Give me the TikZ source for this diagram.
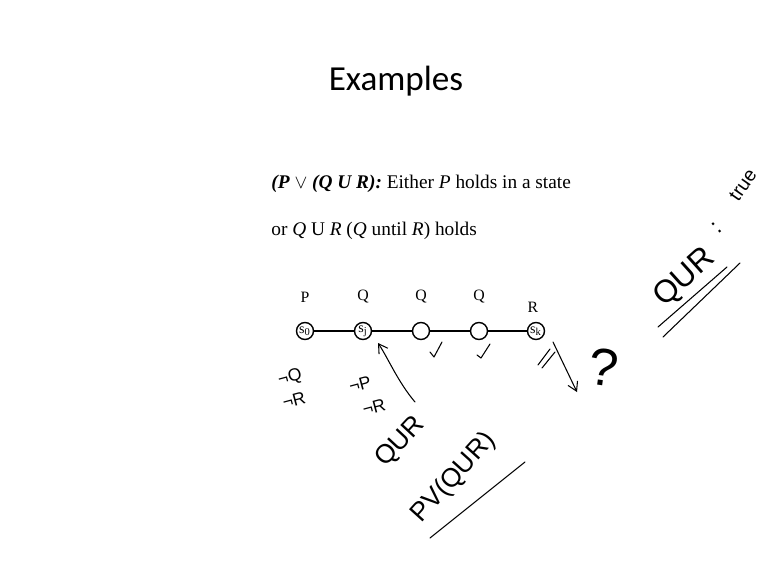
\documentclass[tikz,border=0pt]{standalone}
\usepackage{fontspec}
\setmainfont{Liberation Serif}
\newfontfamily\titlefont{Carlito}
\newfontfamily\hand{Liberation Sans}
\usetikzlibrary{arrows.meta}

\begin{document}
\begin{tikzpicture}[x=0.02cm,y=-0.02cm,>={Straight Barb[length=5pt,width=6pt]},
  st/.style={circle,draw,thick,minimum size=0.34cm,inner sep=0pt,font=\fontsize{8}{8}\selectfont},
  lbl/.style={font=\fontsize{9}{9}\selectfont},
  txt/.style={anchor=base west,inner sep=0pt,font=\fontsize{11}{11}\selectfont},
  hw/.style={inner sep=0pt,font=\hand\fontsize{10}{10}\selectfont},
  pen/.style={semithick,line cap=round,line join=round}]
\useasboundingbox (0,0) rectangle (768,575);

\node[anchor=base,inner sep=0pt](title) at (396,90){\titlefont\fontsize{20}{20}\selectfont Examples};
\node[txt](line1) at (271,188){\textbf{\textit{(P}} $\vee$ \textbf{\textit{(Q U R):}} Either \textit{P} holds in a state};
\node[txt](line2) at (271,235){or \textit{Q} U \textit{R} (\textit{Q} until \textit{R}) holds};

\foreach \n/\x/\t in {s0/305/s\textsubscript{0}, sj/363/s\textsubscript{j}, sa/421/, sb/479/, sk/536/s\textsubscript{k}}
    \node[st](\n) at (\x,331){\t};
\draw[thick](s0)--(sj)--(sa)--(sb)--(sk);

\node[lbl](lp) at (305,297){P};
\node[lbl](lq1) at (363,297){Q};
\node[lbl](lq2) at (421,297){Q};
\node[lbl](lq3) at (479,297){Q};
\node[lbl](lr) at (533,307){R};

\node[hw,rotate=15](nq) at (290,378){¬Q};
\node[hw,rotate=15](nr1) at (294,400){¬R};
\node[hw,rotate=15](np) at (360,384){¬P};
\node[hw,rotate=15](nr2) at (374,407){¬R};
\coordinate(tail) at (415,402);
\coordinate(tip) at (378,343);
\draw[pen,->](tail) .. controls (398,382) and (388,358) .. (tip);
\node[hw,rotate=47,font=\hand\fontsize{15}{15}\selectfont](qur) at (401,442){QUR};
\node[hw,rotate=48,font=\hand\fontsize{15}{15}\selectfont](pvqur) at (454,478){PV(QUR)};
\coordinate(u1) at (430,538);
\coordinate(u2) at (525,462);
\draw[pen](u1)--(u2);

\draw[pen](430,352)--(434,357)--(442,342);
\draw[pen](477,355)--(481,358)--(490,344);
\draw[pen](538,365)--(550,349);
\draw[pen](542,368)--(555,352);
\coordinate(a1) at (553,342);
\coordinate(a2) at (577,392);
\draw[pen,->](a1)--(a2);
\node[hw,rotate=-8,font=\hand\fontsize{30}{30}\selectfont](qm) at (604,367){?};

\node[hw,rotate=42,font=\hand\fontsize{18}{18}\selectfont](qur2) at (685,278){QUR};
\node[hw,rotate=42,font=\hand\fontsize{13}{13}\selectfont](colon) at (717,228){:};
\node[hw,rotate=55,font=\hand\fontsize{11}{11}\selectfont](true) at (743,185){true};
\coordinate(d1) at (658,327);
\coordinate(d2) at (727,267);
\coordinate(d3) at (663,337);
\coordinate(d4) at (740,263);
\draw[pen](d1)--(d2);
\draw[pen](d3)--(d4);

\end{tikzpicture}
\end{document}
